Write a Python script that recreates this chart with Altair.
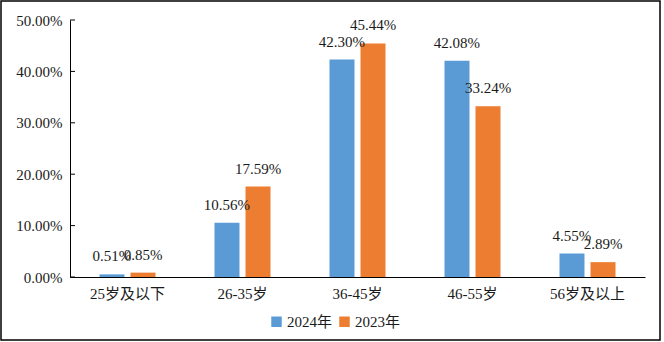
import altair as alt
import pandas as pd

categories = ["25岁及以下", "26-35岁", "36-45岁", "46-55岁", "56岁及以上"]
series = ["2024年", "2023年"]
values_2024 = [0.0051, 0.1056, 0.4230, 0.4208, 0.0455]
values_2023 = [0.0085, 0.1759, 0.4544, 0.3324, 0.0289]
y_ticks = [0.0, 0.1, 0.2, 0.3, 0.4, 0.5]
colors = ["#5B9BD5", "#ED7D31"]

rows = []
for c, a, b in zip(categories, values_2024, values_2023):
    rows.append({"cat": c, "series": series[0], "v": a})
    rows.append({"cat": c, "series": series[1], "v": b})
df = pd.DataFrame(rows)
ticks_df = pd.DataFrame({"t": y_ticks})

FONT = "'Liberation Serif', 'Noto Sans CJK SC', serif"
TXT = "#1a1a1a"
FS = 15

x_enc = alt.X("cat:N", sort=categories, title=None,
              scale=alt.Scale(paddingInner=0.513, paddingOuter=0.2565),
              axis=alt.Axis(labelAngle=0, ticks=False, labelPadding=9,
                            labelFontSize=FS, labelFont=FONT, labelColor=TXT,
                            domainColor="#000", domainWidth=1))
y_enc = alt.Y("v:Q", title=None,
              scale=alt.Scale(domain=[0, 0.5], nice=False),
              axis=alt.Axis(values=y_ticks, format=".2%", grid=False, ticks=False,
                            labelPadding=8, labelFontSize=FS, labelFont=FONT,
                            labelColor=TXT, domainColor="#000", domainWidth=1))
xo = alt.XOffset("series:N", sort=series,
                 scale=alt.Scale(paddingInner=0.194, paddingOuter=0))

base = alt.Chart(df)
bars = base.mark_bar().encode(
    x=x_enc, y=y_enc, xOffset=xo,
    color=alt.Color("series:N", sort=series,
                    scale=alt.Scale(domain=series, range=colors),
                    legend=alt.Legend(title=None, orient="none", legendX=199, legendY=294,
                                      direction="horizontal", symbolType="square",
                                      symbolSize=110, symbolStrokeWidth=0,
                                      labelFontSize=FS, labelFont=FONT, labelColor=TXT,
                                      labelOffset=3, columnPadding=4)),
)
labels = base.mark_text(baseline="alphabetic", dy=-13, fontSize=FS, font=FONT,
                        color=TXT).encode(
    x=alt.X("cat:N", sort=categories), y="v:Q", xOffset=xo,
    text=alt.Text("v:Q", format=".2%"),
)
tick_marks = alt.Chart(ticks_df).mark_rule(color="#000", strokeWidth=1).encode(
    y="t:Q", x=alt.value(0), x2=alt.value(5)
)
border = alt.Chart(alt.Data(values=[{"a": 1}])).mark_rect(
    fill=None, stroke="#000", strokeWidth=1.5
).encode(x=alt.value(-69), x2=alt.value(590), y=alt.value(-19), y2=alt.value(320))

chart = alt.layer(bars, labels, tick_marks, border).properties(
    width=575, height=257,
    autosize=alt.AutoSizeParams(type="none"),
    padding={"left": 70, "top": 20, "right": 19, "bottom": 65},
    background="white",
).configure_view(stroke=None)

chart.save("out.html", embed_options={"renderer": "svg", "actions": False})
